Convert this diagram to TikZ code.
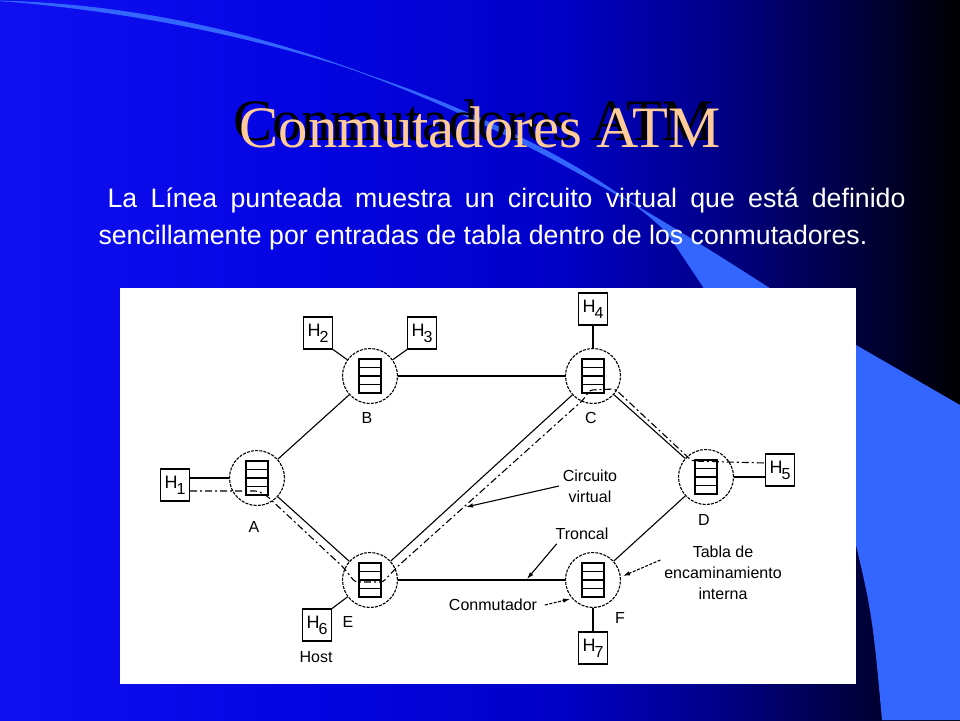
\documentclass[tikz,border=0pt]{standalone}
\usepackage{fontspec}
\setmainfont{Liberation Sans}
\newfontfamily\titlefont{Liberation Serif}
\usetikzlibrary{arrows.meta}

\definecolor{bgA}{RGB}{15,15,240}
\definecolor{bgB}{RGB}{5,5,228}
\definecolor{bgC}{RGB}{0,0,200}
\definecolor{bgD}{RGB}{0,0,140}
\definecolor{bgE}{RGB}{0,0,80}
\definecolor{bgF}{RGB}{0,0,12}
\definecolor{ribbonblue}{RGB}{51,102,255}
\definecolor{titlepeach}{RGB}{255,204,153}
\pgfdeclarehorizontalshading{slidebg}{100bp}{color(0bp)=(bgA); color(25bp)=(bgA);
  color(40bp)=(bgB); color(54bp)=(bgC); color(62bp)=(bgD); color(68bp)=(bgE);
  color(74bp)=(bgF); color(75bp)=(black); color(100bp)=(black)}

\newcommand\hostname[1]{{\fontsize{18}{18}\selectfont H\kern-1pt\raisebox{-6pt}{\fontsize{16}{16}\selectfont #1}}}

\begin{document}
\begin{tikzpicture}[x=1pt, y=-1pt, line width=1.1pt,
    font=\fontsize{16}{21}\selectfont,
    switchnode/.style={circle, draw, dash pattern=on 3pt off 1.2pt, minimum size=55pt, inner sep=0pt},
    hostbox/.style={draw, minimum width=29pt, minimum height=32pt, inner sep=0pt},
    vcpath/.style={dash pattern=on 7pt off 3pt on 2pt off 3pt, rounded corners=3pt},
    notearrow/.style={-{Latex[length=7pt,width=4.5pt]}}]
  \useasboundingbox (0,0) rectangle (960,720);
  % slide background
  \shade[shading=slidebg] (0,0) rectangle (960,720);
  \fill[ribbonblue] (0,1) .. controls (350,10) and (620,190) .. (856,345) -- (960,405)
    -- (960,720) -- (882,720) .. controls (872,610) .. (845,500) -- (667,233)
    .. controls (600,165) and (360,30) .. (0,1) -- cycle;
  \draw[ribbonblue, line width=0.8pt] (0,1) .. controls (350,10) and (620,190) .. (856,345);
  \fill[white] (120,288) rectangle (856,684);

  % title with its shadow, and text
  \node[font=\titlefont\fontsize{58.7}{60}\selectfont, text=titlepeach, anchor=base] (title) at (480,147)
    {\makebox[0pt][l]{\kern-6.5pt\raisebox{7pt}{\color{black}Conmutadores ATM}}Conmutadores ATM};
  \node[font=\fontsize{26.7}{32}\selectfont, text=white, anchor=base west, inner sep=0pt] (line1) at (107,207)
    {\makebox[798pt][s]{La Línea punteada muestra un circuito virtual que está definido}};
  \node[font=\fontsize{26.7}{32}\selectfont, text=white, anchor=base west, inner sep=0pt] (line2) at (98,244)
    {sencillamente por entradas de tabla dentro de los conmutadores.};

  % switches with their tables
  \foreach \n/\x/\y/\lx/\ly in {A/257/478/254/527, B/370/376/367/418, C/593/376/591/418,
      D/706/477/704/520, E/370/580/348/622, F/593/580/620/618} {
    \node[switchnode] (\n) at (\x,\y) {};
    \draw (\x-11,\y-17) rectangle (\x+11,\y+17);
    \foreach \r in {1,2,3} \draw (\x-11,\y-17+8.5*\r) -- (\x+11,\y-17+8.5*\r);
    \node (lab\n) at (\lx,\ly) {\n};
  }
  % hosts
  \foreach \h/\x/\y in {1/175/485, 2/318/333, 3/422/333, 4/593/309, 5/780/470, 6/317/625, 7/593/648}
    \node[hostbox] (H\h) at (\x,\y) {\hostname{\h}};
  \node (hostlab) at (316,657) {Host};

  % trunks
  \foreach \a/\b in {A/B, B/C, C/D, C/E, A/E, E/F, D/F}
    \draw (\a) -- (\b);
  \draw (A.west) -- (A.west -| H1.east);
  \draw (D.east) -- (D.east -| H5.west);
  \draw (H2.south east) -- (B);
  \draw (H3.south west) -- (B);
  \draw (H4) -- (C);
  \draw (H6.north east) -- (E);
  \draw (H7) -- (F);

  % virtual circuit
  \draw[vcpath] ([yshift=-6pt]H1.east) -- (258,491) -- (267,496) -- (343,567) -- (355,582)
    -- (383,582) -- (397,567) -- (583,400) -- (590,390) -- (615,389) -- (692,461)
    -- ([yshift=7pt]H5.west);

  % notes
  \node[align=center] (cvtext) at (590,486) {Circuito\\virtual};
  \coordinate (cvtip) at (466,507);
  \draw[notearrow] (cvtext.west) -- (cvtip);
  \node (trtext) at (582,534) {Troncal};
  \coordinate (trtip) at (527,579);
  \draw[notearrow] ([xshift=5pt]trtext.south west) -- (trtip);
  \node (cmtext) at (493,605) {Conmutador};
  \coordinate (cmtip) at (570,599);
  \draw[notearrow, dash pattern=on 3pt off 1.5pt] ([xshift=4pt]cmtext.east) -- (cmtip);
  \node[align=center] (tbtext) at (723,573) {Tabla de\\encaminamiento\\interna};
  \coordinate (tbtip) at (623,576);
  \draw[notearrow, dash pattern=on 3pt off 1.5pt] ([yshift=13pt]tbtext.west) -- (tbtip);
\end{tikzpicture}
\end{document}
